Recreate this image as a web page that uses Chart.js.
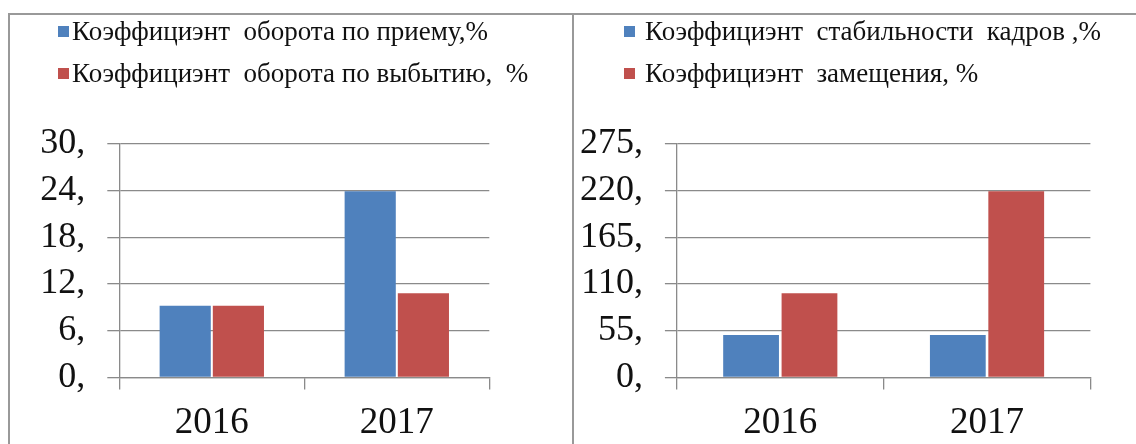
<!DOCTYPE html>
<html lang="ru">
<head>
<meta charset="utf-8">
<title>Коэффициенты движения кадров</title>
<script src="https://cdn.jsdelivr.net/npm/chart.js@4.4.0/dist/chart.umd.min.js"></script>
<style>
    html, body { margin: 0; padding: 0; background: #fff; }
    #page { position: relative; width: 1136px; height: 444px; overflow: hidden; }
    .panel {
        position: absolute;
        top: 13px;
        height: 431px;
        border-top: 2px solid #999;
        border-left: 2px solid #999;
        box-sizing: border-box;
    }
    #left-panel { left: 8px; width: 566px; }
    #right-panel { left: 572px; width: 564px; }
    .panel canvas { position: absolute; left: 0; top: 0; }
    .legend {
        position: absolute;
        top: -5px;
        font-family: "Liberation Serif", "Times New Roman", serif;
        font-size: 27px;
        line-height: 42px;
        color: #111;
        white-space: pre;
    }
    #turnoverLegend { left: 48px; }
    #stabilityLegend { left: 50px; }
    .legend .sq {
        display: inline-block;
        width: 11px;
        height: 11px;
        margin-bottom: 3px;
    }
    #turnoverLegend .sq { margin-right: 3px; }
    #stabilityLegend .sq { margin-right: 10px; }
</style>
</head>
<body>
<div id="page">
    <div class="panel" id="left-panel">
        <canvas id="turnoverChart" width="562" height="429"></canvas>
        <div class="legend" id="turnoverLegend"></div>
    </div>
    <div class="panel" id="right-panel">
        <canvas id="stabilityChart" width="562" height="429"></canvas>
        <div class="legend" id="stabilityLegend"></div>
    </div>
</div>

<script>
    // --- Data ---
    const years = ['2016', '2017'];

    const hireRate = [9.2, 23.9];       // оборот по приему
    const leaveRate = [9.2, 10.8];      // оборот по выбытию
    const stabilityRate = [50, 50];     // стабильность кадров
    const replaceRate = [99, 219];      // замещение

    const turnoverTicks = [0, 6, 12, 18, 24, 30];
    const stabilityTicks = [0, 55, 110, 165, 220, 275];

    const turnoverLabels = ['Коэффициэнт  оборота по приему,%', 'Коэффициэнт  оборота по выбытию,  %'];
    const stabilityLabels = ['Коэффициэнт  стабильности  кадров ,%', 'Коэффициэнт  замещения, %'];

    const BLUE = '#4F81BD';
    const RED = '#C0504D';
    const GRID = '#8a8a8a';
    const FONT = '"Liberation Serif", "Times New Roman", serif';

    // --- Legend (plain HTML, built from the datasets) ---
    function buildLegend(el, chart) {
        chart.data.datasets.forEach(ds => {
            const row = document.createElement('div');
            const sq = document.createElement('span');
            sq.className = 'sq';
            sq.style.background = ds.backgroundColor;
            row.appendChild(sq);
            row.appendChild(document.createTextNode(ds.label));
            el.appendChild(row);
        });
    }

    // --- Chart factory ---
    function makeChart(canvasId, legendId, labels, seriesA, seriesB, ticks, geom) {
        const ctx = document.getElementById(canvasId).getContext('2d');
        const chart = new Chart(ctx, {
            type: 'bar',
            data: {
                labels: years,
                datasets: [
                    { label: labels[0], data: seriesA, backgroundColor: BLUE },
                    { label: labels[1], data: seriesB, backgroundColor: RED }
                ]
            },
            options: {
                responsive: false,
                animation: false,
                categoryPercentage: geom.cat,
                barPercentage: geom.bar,
                layout: {
                    padding: { top: 128.7, right: geom.right, left: 0, bottom: 0 }
                },
                plugins: {
                    legend: { display: false },
                    tooltip: { enabled: false }
                },
                scales: {
                    x: {
                        grid: {
                            offset: true,
                            drawOnChartArea: false,
                            drawTicks: true,
                            tickLength: 12,
                            color: GRID,
                            lineWidth: 1.3
                        },
                        border: { display: true, color: GRID, width: 1.3 },
                        ticks: {
                            color: '#111',
                            font: { family: FONT, size: 37 },
                            padding: 12,
                            maxRotation: 0
                        },
                        afterFit: scale => { scale.height = 66.5; }
                    },
                    y: {
                        min: ticks[0],
                        max: ticks[ticks.length - 1],
                        afterBuildTicks: scale => {
                            scale.ticks = ticks.map(v => ({ value: v }));
                        },
                        grid: {
                            color: GRID,
                            lineWidth: 1.3,
                            drawTicks: true,
                            tickLength: 12
                        },
                        border: { display: true, color: GRID, width: 1.3 },
                        ticks: {
                            color: '#111',
                            font: { family: FONT, size: 36 },
                            padding: 22,
                            callback: value => value + ','
                        },
                        afterFit: scale => { scale.width = geom.axis; }
                    }
                }
            }
        });
        buildLegend(document.getElementById(legendId), chart);
        return chart;
    }

    makeChart('turnoverChart', 'turnoverLegend', turnoverLabels, hireRate, leaveRate, turnoverTicks,
        { axis: 109.3, right: 82.7, cat: 0.575, bar: 0.962 });

    makeChart('stabilityChart', 'stabilityLegend', stabilityLabels, stabilityRate, replaceRate, stabilityTicks,
        { axis: 102.9, right: 45.6, cat: 0.565, bar: 0.955 });
</script>
</body>
</html>
